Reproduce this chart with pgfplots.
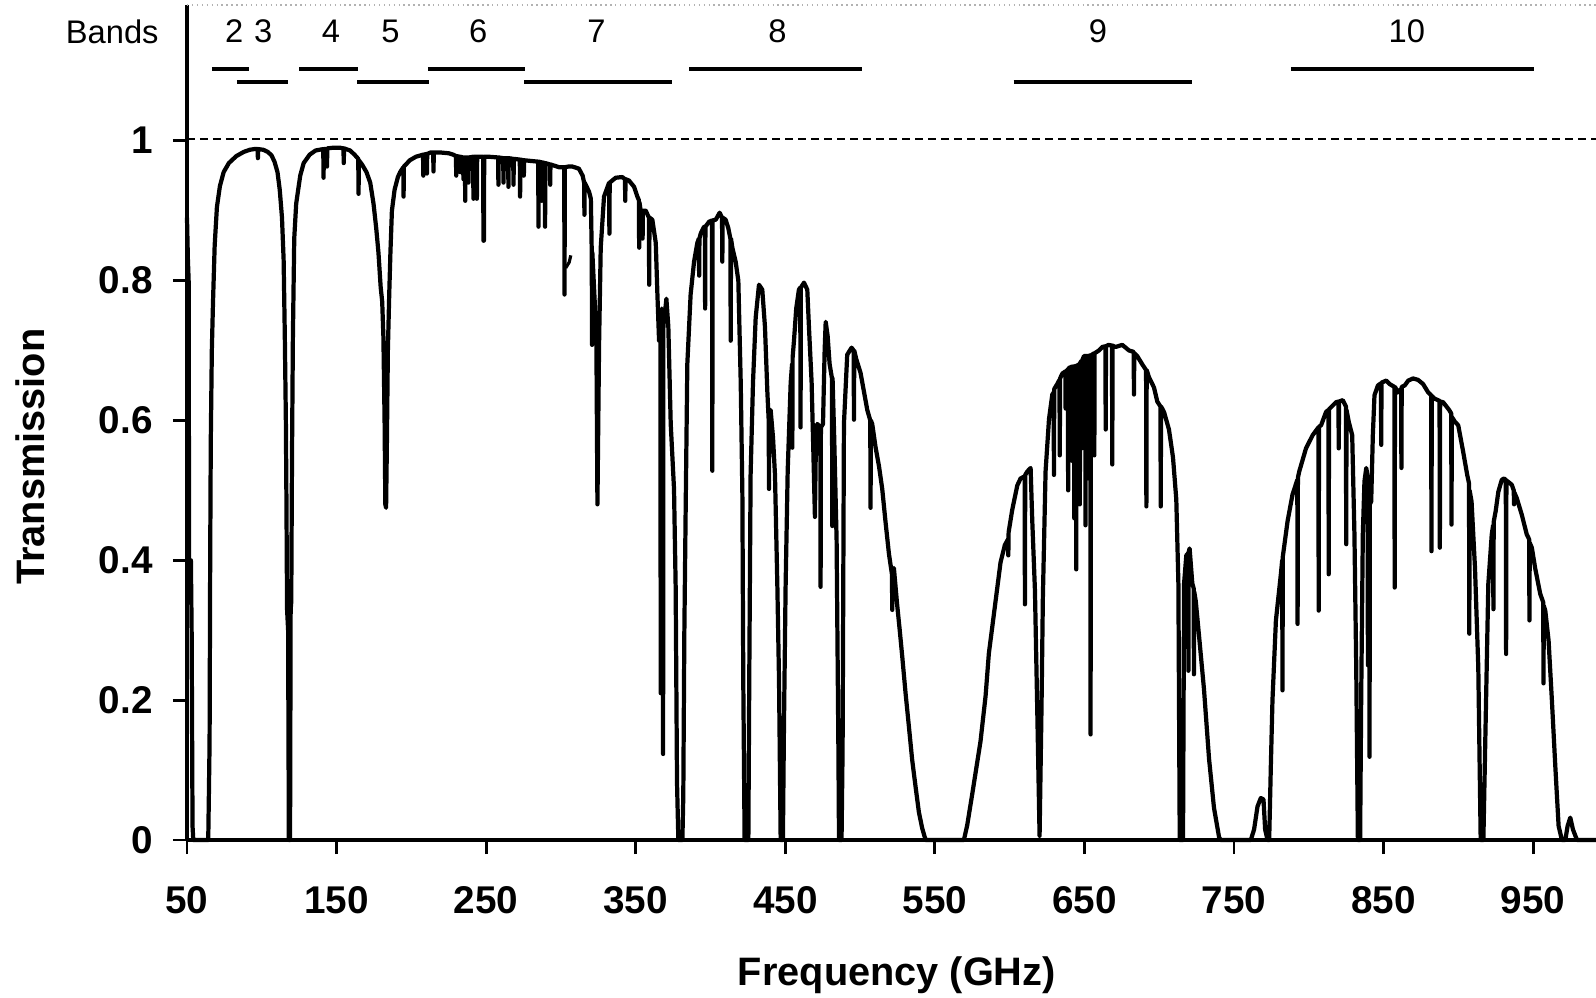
\documentclass[border=0pt]{standalone}
\usepackage{fontspec}
\setmainfont{Liberation Sans}
\usepackage{pgfplots}
\pgfplotsset{compat=1.18}

\begin{document}
\begin{tikzpicture}
\begin{axis}[
  scale only axis, width=14.09cm, height=8.35cm,
  xmin=50, xmax=992, ymin=0, ymax=1.194,
  axis x line=bottom, axis y line=left,
  axis line style={-, line width=1pt},
  xtick={50,150,...,950}, ytick={0,0.2,0.4,0.6,0.8,1},
  tick align=outside, major tick length=0.14cm,
  tick style={line width=0.8pt, black},
  /pgf/number format/assume math mode=true,
  tick label style={font=\fontsize{11}{13}\selectfont\bfseries},
  xticklabel style={yshift=-0.2cm},
  yticklabel style={xshift=-0.08cm},
  clip=false,
]
% transmission spectrum
\addplot[black, line width=1.2pt, line join=round] coordinates {
(50,0.89) (50.6,0.83) (51.1,0.80) (51.4,0.40) (52.6,0.40) (53.1,0.30) (53.7,0.02) (54.2,0) (64.2,0) (64.6,0.06) (65.1,0.14) (65.5,0.40) (65.9,0.57) (66.6,0.70) (67.4,0.77) (68.5,0.85) (70,0.905) (72,0.935) (74.5,0.955) (78,0.968) (83,0.978) (88,0.984) (92,0.987) (95,0.988) (97.2,0.988) (97.4,0.975) (97.6,0.988) (101,0.987) (104,0.984) (106.5,0.979) (108.5,0.97) (110.5,0.955) (112,0.93) (113.5,0.89) (114.6,0.83) (115.4,0.72) (116.1,0.60) (116.5,0.48) (116.9,0.33) (117.6,0.30) (118.1,0) (118.9,0) (119.3,0.33) (119.7,0.34) (120.2,0.55) (120.8,0.72) (121.7,0.86) (123,0.91) (125.7,0.95) (128,0.968) (132,0.98) (136,0.986)
(141.1,0.988) (141.3,0.947) (141.5,0.988) (143.4,0.988) (143.6,0.963) (143.8,0.989) (148,0.99) (152,0.99) (154.6,0.989) (154.8,0.968) (155,0.989) (159,0.986) (162,0.98) (164.5,0.974) (164.7,0.924) (164.9,0.972) (167,0.966) (170,0.955) (172.5,0.94) (174.7,0.91) (176.5,0.875) (178,0.84) (179.5,0.79) (180.5,0.77) (181.3,0.72) (182.1,0.60) (182.6,0.48) (183.1,0.475) (183.6,0.56) (184.3,0.70) (185.2,0.78) (186,0.84) (187,0.9) (188.8,0.93) (191,0.948) (192.5,0.955) (194.6,0.962) (194.8,0.92) (195,0.963) (199,0.972)
(203,0.977) (207.8,0.98) (208,0.95) (208.2,0.98) (210.2,0.981) (210.4,0.953) (210.6,0.981) (212.6,0.983) (214.6,0.983) (214.8,0.956) (215,0.983) (220,0.983) (225,0.982) (228,0.98) (229.8,0.978) (230,0.95) (230.2,0.978) (232.4,0.977) (232.6,0.955) (232.8,0.977) (234.6,0.976) (234.8,0.945) (235,0.976) (235.8,0.976) (236,0.914) (236.2,0.976) (238,0.976) (238.2,0.94) (238.4,0.976) (241.3,0.977) (241.5,0.917) (241.7,0.977) (243.6,0.977) (243.8,0.917) (244,0.977) (248,0.977) (248.2,0.857) (248.5,0.857) (248.7,0.977) (252,0.977) (258,0.976) (258.2,0.937) (258.4,0.976) (261.4,0.975) (261.6,0.94) (261.8,0.975) (264.7,0.975) (264.9,0.934) (265.1,0.975) (268.1,0.974) (268.3,0.937) (268.5,0.974) (272.5,0.973) (272.7,0.92) (272.9,0.973) (275,0.972) (275.2,0.95) (275.4,0.972) (280,0.971) (284.8,0.97) (285,0.877) (285.2,0.97) (287,0.969) (287.2,0.914) (287.4,0.969) (289.2,0.968) (289.4,0.877) (289.6,0.968) (292.6,0.966) (292.8,0.937) (293,0.966) (296,0.964)
(298.8,0.962) (302.2,0.962) (302.4,0.78) (302.6,0.962) (305,0.963) (307.7,0.963) (312,0.96) (314.5,0.95) (315.5,0.94) (315.7,0.894) (315.9,0.94) (318.8,0.927) (320,0.917) (320.6,0.84) (320.8,0.708) (321,0.84) (322.8,0.76) (323.7,0.714) (324.4,0.48) (325.5,0.71) (326.6,0.847) (328.8,0.92) (332.2,0.94) (332.4,0.867) (332.6,0.94) (336.6,0.947) (341,0.948) (342.8,0.945) (343,0.914) (343.2,0.945) (345.5,0.943) (348.9,0.934) (351.1,0.92) (352.1,0.915) (352.3,0.847) (352.5,0.912) (353.3,0.9) (354.4,0.9) (354.6,0.86) (354.8,0.9) (356.7,0.9) (358.8,0.89) (359,0.794) (359.2,0.89) (361.1,0.887) (363.4,0.854) (364.5,0.78) (365.6,0.714) (366.5,0.714) (366.7,0.21) (366.9,0.714) (367.4,0.76) (368.1,0.75) (368.3,0.123) (368.5,0.75) (369.2,0.747) (370.5,0.774) (371.8,0.734) (373.4,0.595) (375.6,0.502) (376.7,0.362) (377.6,0.083) (378.5,0)
(381.2,0) (381.8,0.063) (382.5,0.296) (383.4,0.475) (384.5,0.681) (386.7,0.78) (389,0.827) (391.2,0.854) (392.2,0.86) (392.4,0.807) (392.6,0.86) (393.4,0.867) (395.7,0.877) (396.2,0.877) (396.4,0.76) (396.6,0.877) (399,0.884) (401,0.886) (401.2,0.528) (401.4,0.886) (403.5,0.887) (406.1,0.897) (407.7,0.89) (407.9,0.827) (408.1,0.89) (410.1,0.887) (411.9,0.875) (413.3,0.86) (413.5,0.714) (413.7,0.86) (414.6,0.847) (416.8,0.827) (418.6,0.8) (420.2,0.654) (421.3,0.495) (421.9,0.229) (422.8,0) (425.3,0) (425.9,0.229) (426.8,0.522) (428.4,0.654) (430.2,0.747) (432.4,0.794) (434.6,0.787) (436.4,0.734) (438,0.641) (438.9,0.6) (439.1,0.502) (439.3,0.6) (440.2,0.615) (441.8,0.575) (443.1,0.522) (444.7,0.362) (445.8,0.229) (446.9,0) (448.4,0) (449.1,0.163) (450.2,0.362) (451.6,0.528) (453.6,0.654) (454.5,0.68) (454.7,0.561) (454.9,0.69) (455.8,0.714) (457.3,0.76) (459.1,0.787) (460,0.79) (460.2,0.59) (460.4,0.79) (462.5,0.797) (464.7,0.787) (465.8,0.734) (467.6,0.654) (468.7,0.56) (469.8,0.462) (470.4,0.56) (471.4,0.595) (473.4,0.59) (473.6,0.362) (473.8,0.59) (475.2,0.595) (476.3,0.7) (477,0.741) (478.3,0.721) (479.6,0.681) (481.2,0.66) (481.4,0.449) (481.6,0.66) (482.7,0.575) (484.3,0.429) (485.5,0.13) (485.9,0) (487.6,0) (488.3,0.13) (489.2,0.595) (491.4,0.694) (494.3,0.704) (495.7,0.7) (495.9,0.601) (496.1,0.7) (497.4,0.688) (500.3,0.668) (502.6,0.641) (504.8,0.615) (506.8,0.6) (507,0.475) (507.2,0.6) (508.1,0.595) (510.4,0.561) (512.6,0.535) (514.8,0.502) (517,0.455) (519.3,0.409) (521.3,0.38) (521.5,0.329) (521.7,0.38) (522.6,0.389) (524.8,0.336) (526.5,0.3) (528.2,0.262) (530.4,0.21) (532.6,0.163) (534.8,0.115) (537.1,0.076) (539.3,0.04) (541.5,0.017) (543.8,0)
(569.4,0) (571.6,0.021) (575,0.066) (580.5,0.141) (583.9,0.206) (586.1,0.267) (590.6,0.342) (593.9,0.397) (596.8,0.422) (598.9,0.43) (599.1,0.407) (599.3,0.44) (601.7,0.472) (605.1,0.507) (607.3,0.517) (610,0.52) (610.2,0.337) (610.4,0.522) (611.8,0.527) (614,0.532) (615.1,0.457) (616.9,0.357) (618.4,0.191) (620,0.006) (621.3,0.191) (622.2,0.347) (624,0.527) (626.3,0.602) (628.5,0.637) (629.4,0.64) (629.6,0.522) (629.8,0.645) (631.8,0.652) (633.3,0.658) (633.5,0.55) (633.7,0.66) (635.2,0.667) (637.2,0.67) (637.4,0.617) (637.6,0.67) (638.9,0.673) (639.1,0.5) (639.3,0.673) (639.6,0.675) (641.7,0.677) (641.9,0.542) (642.1,0.677) (643,0.677) (643.2,0.46) (643.4,0.677) (644.3,0.678) (644.5,0.387) (644.7,0.678) (646.3,0.68) (646.7,0.68) (646.9,0.48) (647.1,0.682) (647.9,0.685) (648.1,0.56) (648.3,0.685) (649.7,0.692) (650.5,0.692) (650.7,0.45) (650.9,0.692) (651.8,0.692) (652,0.517) (652.2,0.692) (653.9,0.693) (654.1,0.151) (654.3,0.693) (655.7,0.695) (656.4,0.696) (656.6,0.55) (656.8,0.696) (657.5,0.697) (659.7,0.7) (661.9,0.705) (664,0.706) (664.2,0.587) (664.4,0.706) (666,0.708) (668.4,0.707) (668.6,0.537) (668.8,0.707) (670.8,0.705) (675.3,0.708) (679.8,0.7) (682.9,0.698) (683.1,0.637) (683.3,0.696) (685.3,0.692) (688.7,0.68) (691.2,0.672) (691.4,0.477) (691.6,0.672) (693.1,0.662) (696.5,0.647) (698.7,0.627) (700.8,0.62) (701,0.477) (701.2,0.62) (703.2,0.612) (706.5,0.587) (709.2,0.547) (711.4,0.487) (712.8,0.367) (713.7,0) (715.9,0) (716.6,0.367) (718.1,0.407) (719.3,0.41) (719.5,0.242) (719.7,0.412) (720.3,0.417) (722.1,0.367) (723,0.36) (723.2,0.237) (723.4,0.355) (724.4,0.342) (726.6,0.292) (729.9,0.216) (733.3,0.116) (736.6,0.046) (740,0.004) (741.1,0)
(761.2,0) (763.4,0.015) (765.7,0.048) (767.9,0.06) (769.7,0.058) (770.8,0.015) (772.4,0) (773.5,0) (774.6,0.105) (775.7,0.2) (778,0.314) (781.3,0.38) (782.2,0.4) (782.4,0.214) (782.6,0.405) (785.8,0.456) (789.1,0.494) (792.3,0.515) (792.5,0.309) (792.7,0.518) (793.6,0.527) (798.1,0.56) (802.6,0.579) (806.4,0.59) (806.6,0.328) (806.8,0.591) (808.2,0.593) (811.5,0.612) (813.1,0.615) (813.3,0.38) (813.5,0.616) (814.9,0.619) (818.2,0.626) (819.8,0.627) (820,0.56) (820.2,0.627) (822.7,0.629) (824.8,0.62) (825,0.423) (825.2,0.615) (826.7,0.598) (829,0.579) (830.5,0.437) (831.7,0.247) (832.8,0) (834.3,0) (835,0.2) (836.1,0.437) (837.2,0.513) (838.4,0.532) (839.3,0.52) (839.5,0.25) (839.7,0.5) (840.4,0.5) (840.6,0.119) (840.8,0.48) (841.7,0.484) (842.8,0.579) (843.9,0.636) (846.2,0.65) (848.2,0.653) (848.4,0.565) (848.6,0.654) (851.8,0.657) (854,0.652) (857.2,0.648) (857.4,0.361) (857.6,0.648) (859.6,0.64) (861.7,0.645) (861.9,0.532) (862.1,0.648) (864.1,0.65) (866.5,0.657) (869.7,0.66) (873,0.658) (876.4,0.652) (879.8,0.64) (881.8,0.636) (882,0.413) (882.2,0.635) (884.2,0.631) (887.4,0.628) (887.6,0.418) (887.8,0.627) (889.8,0.626) (893.8,0.615) (895.2,0.61) (895.4,0.451) (895.6,0.605) (897.7,0.598) (899.9,0.593) (903.2,0.555) (905.9,0.522) (907.1,0.51) (907.3,0.295) (907.5,0.5) (908.8,0.484) (911.1,0.389) (913.3,0.247) (914.9,0) (916.7,0) (918.5,0.2) (920,0.366) (922.3,0.437) (923.2,0.45) (923.4,0.33) (923.6,0.455) (924.9,0.47) (926.7,0.498) (929,0.515) (930.5,0.517) (931.7,0.515) (931.9,0.266) (932.1,0.514) (933.4,0.512) (935.7,0.508) (937,0.5) (937.2,0.48) (937.4,0.497) (939,0.489) (942.4,0.465) (945.7,0.437) (947.3,0.43) (947.5,0.314) (947.7,0.425) (949.1,0.418) (951.3,0.389) (954.7,0.352) (956.7,0.34) (956.9,0.224) (957.1,0.335) (958.1,0.328) (960.3,0.285) (962.5,0.2) (964.8,0.105) (967,0.02) (969.2,0) (971.5,0) (973,0.02) (974.8,0.032) (976.6,0.015) (979.3,0) (992,0)
};
% small stray mark near 305 GHz
\addplot[black, line width=0.9pt] coordinates {(303.2,0.818) (305.5,0.826) (306.6,0.836)};
% unit transmission
\addplot[black, line width=0.6pt, dash pattern=on 0.08cm off 0.05cm] coordinates {(50,1.003) (992,1.003)};
% faint top frame
\addplot[gray!60, line width=0.4pt, densely dotted] coordinates {(50,1.194) (992,1.194)};
% receiver bands
\addplot[black, line width=1.1pt] coordinates {(66.7,1.102) (91.5,1.102)};
\addplot[black, line width=1.1pt] coordinates {(83.4,1.084) (117.5,1.084)};
\addplot[black, line width=1.1pt] coordinates {(124.9,1.102) (164.3,1.102)};
\addplot[black, line width=1.1pt] coordinates {(163.7,1.084) (211.8,1.084)};
\addplot[black, line width=1.1pt] coordinates {(211.1,1.102) (276,1.102)};
\addplot[black, line width=1.1pt] coordinates {(275.5,1.084) (374.3,1.084)};
\addplot[black, line width=1.1pt] coordinates {(385.7,1.102) (501.3,1.102)};
\addplot[black, line width=1.1pt] coordinates {(602.6,1.084) (721.8,1.084)};
\addplot[black, line width=1.1pt] coordinates {(788,1.102) (950.8,1.102)};
\begin{scope}[every node/.style={font=\fontsize{9.3}{11}\selectfont}]
\node at (axis cs:0,1.156) {Bands};
\node at (axis cs:81.5,1.156) {2};
\node at (axis cs:101,1.156) {3};
\node at (axis cs:146.3,1.156) {4};
\node at (axis cs:186,1.156) {5};
\node at (axis cs:244.7,1.156) {6};
\node at (axis cs:323.7,1.156) {7};
\node at (axis cs:444.8,1.156) {8};
\node at (axis cs:659,1.156) {9};
\node at (axis cs:865.5,1.156) {10};
\end{scope}
\node[font=\fontsize{11.3}{13}\selectfont\bfseries, anchor=base] at (axis description cs:0.5038,-0.174) {Frequency (GHz)};
\node[font=\fontsize{11.3}{13}\selectfont\bfseries, rotate=90] at (axis description cs:-0.111,0.459) {Transmission};
\end{axis}
\pgfresetboundingbox
\path (current axis.south west) ++(-1.87cm,-1.57cm) rectangle ([yshift=0.05cm]current axis.north east);
\end{tikzpicture}
\end{document}
